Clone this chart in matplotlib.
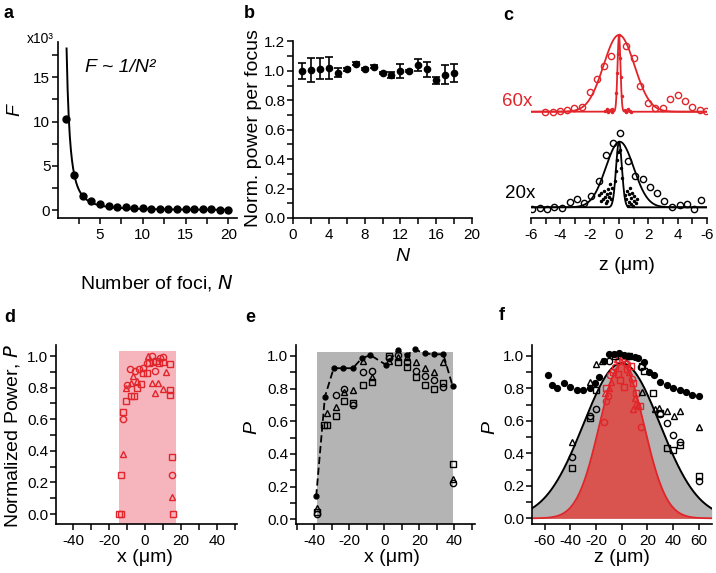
import numpy as np
import matplotlib
matplotlib.use("Agg")
import matplotlib.pyplot as plt
from matplotlib.patches import Rectangle
from matplotlib.ticker import MultipleLocator, FixedLocator

plt.rcParams['font.family'] = ['Liberation Sans', 'DejaVu Sans']
plt.rcParams['axes.linewidth'] = 1.2
plt.rcParams['axes.unicode_minus'] = False

RED = '#e1252b'
PINK = '#f6b4bd'
GRAY = '#b4b4b4'
RED_FILL = '#d9534f'

# ---- panel a: F vs number of foci ----
N_a = list(range(1, 21))
F_a = [10.3, 4.0, 1.62, 0.98, 0.68, 0.49, 0.38, 0.30, 0.23, 0.18,
       0.16, 0.14, 0.12, 0.11, 0.10, 0.09, 0.08, 0.07, 0.06, 0.05]
fit_a = (11.4, 0.31)   # F = A / (N - c)^2

# ---- panel b: normalized power per focus ----
N_b = list(range(1, 19))
P_b = [1.00, 1.005, 1.016, 1.022, 0.989, 1.01, 1.05, 1.011, 1.03, 0.986,
       0.97, 1.0, 1.0, 1.04, 1.01, 0.937, 0.975, 0.986]
E_b = [0.055, 0.08, 0.07, 0.075, 0.03, 0.008, 0.01, 0.008, 0.008, 0.008,
       0.02, 0.045, 0.008, 0.042, 0.05, 0.025, 0.062, 0.062]

# ---- panel c: axial profiles (normalized intensity) ----
z60_circ = [-5.02, -4.52, -4.05, -3.55, -3.05, -2.52, -2.0, -1.5, -1.05, -0.55,
            0.5, 1.0, 1.45, 1.95, 2.47, 2.97, 3.5, 4.0, 4.5, 4.98, 5.5, 5.95]
i60_circ = [0.0, 0.0, 0.01, 0.018, 0.044, 0.057, 0.26, 0.42, 0.59, 0.73,
            0.86, 0.70, 0.33, 0.12, 0.044, 0.044, 0.16, 0.22, 0.143, 0.057, 0.022, 0.014]
z60_dot = [-0.95, -0.85, -0.75, -0.6, -0.5, -0.45, 0.4, 0.5, 0.6, 0.75, 0.85,
           -0.2, -0.15, -0.1, 0.0, 0.1, 0.15, 0.2]
i60_dot = [0.01, 0.03, 0.0, 0.02, 0.04, 0.0, 0.02, 0.0, 0.03, 0.01, 0.0,
           0.25, 0.5, 0.75, 1.0, 0.7, 0.45, 0.2]
z20_circ = [-5.93, -5.41, -4.91, -4.41, -3.89, -3.37, -2.86, -2.37, -1.91, -1.39,
            -0.89, -0.41, 0.09, 0.59, 1.11, 1.64, 2.09, 2.59, 3.09, 3.61,
            4.13, 4.64, 5.09, 5.61]
i20_circ = [-0.03, -0.01, -0.03, 0.0, -0.015, 0.085, 0.127, 0.061, 0.172, 0.406,
            0.797, 0.985, 1.137, 0.71, 0.477, 0.427, 0.314, 0.223, 0.101, 0.0,
            0.04, 0.046, -0.03, 0.111]
z20_dot = [-1.35, -1.2, -1.1, -1.0, -0.95, -0.85, -0.8, -0.75, -0.7, -0.62,
           -0.55, -0.5, -1.25, -0.9, -0.6,
           0.4, 0.5, 0.55, 0.65, 0.7, 0.8, 0.85, 0.9, 1.0, 1.05, 1.15, 1.2,
           0.6, 0.95, 0.75,
           -0.2, -0.15, -0.1, 0.1, 0.15, -0.25, 0.2]
i20_dot = [0.18, 0.22, 0.12, 0.25, 0.15, 0.20, 0.10, 0.28, 0.16, 0.22,
           0.12, 0.30, 0.10, 0.06, 0.35,
           0.18, 0.12, 0.25, 0.08, 0.20, 0.14, 0.05, 0.22, 0.10, 0.17, 0.06, 0.13,
           0.02, 0.02, 0.30,
           0.55, 0.72, 0.85, 0.88, 0.60, 0.40, 0.45]
# gaussian fits: (center, sigma)
fit60_wide, fit60_narrow = (0.0, 1.05), (0.0, 0.1)
fit20_wide, fit20_narrow = (0.05, 0.95), (0.0, 0.2)
c_ticks = [-6, -4, -2, 0, 2, 4, 6]
c_ticklabels = ['-6', '-4', '-2', '0', '2', '4', '-6']

# ---- panel d: lateral power, 60x ----
d_sq_x = [-14.3, -13.6, -13.4, -12.5, -10.6, -8.0, -6.1, -4.7, -2.4, -0.9, 0.9,
          2.4, 4.3, 6.1, 8.0, 10.2, 13.6, 14.0, 14.0, 14.9, 15.4]
d_sq_y = [0.0, 0.0, 0.247, 0.643, 0.717, 0.749, 0.749, 0.80, 0.823, 0.89, 0.89,
          0.954, 0.964, 0.97, 0.954, 0.964, 0.95, 0.785, 0.753, 0.363, 0.0]
d_ci_x = [-12.1, -10.2, -8.4, -5.6, -3.2, -0.9, 0.9, 3.7, 5.6, 8.4, 10.2, 14.9]
d_ci_y = [0.60, 0.816, 0.916, 0.907, 0.916, 0.922, 0.954, 1.0, 0.907, 0.985, 0.996, 0.247]
d_tr_x = [-12.5, -10.6, -8.0, -6.5, -4.3, 1.9, 3.7, 5.6, 7.4, 9.9, 11.7, 14.9]
d_tr_y = [0.378, 0.795, 0.827, 0.873, 0.844, 1.0, 0.83, 0.768, 0.83, 0.789, 0.90, 0.11]
d_span = (-14.3, 17.0, 1.03)

# ---- panel e: lateral power, 20x ----
e_dash_x = [-39, -34, -29, -23.5, -18, -13, -8, 1, 7.5, 12.8, 17.5, 23, 28.4, 33.7, 39]
e_dash_y = [0.14, 0.75, 0.925, 0.925, 0.925, 0.985, 1.005, 0.945, 1.035, 1.005,
            1.04, 1.015, 1.01, 1.01, 0.815]
e_ci_x = [-38.5, -27.6, -23, -17.7, -12.4, -7.2, 2.5, 8, 12.8, 18.1, 23.2, 28.4, 33.7, 39]
e_ci_y = [0.03, 0.76, 0.80, 0.70, 0.90, 0.91, 0.99, 1.005, 0.965, 0.91, 0.875, 0.85, 0.81, 0.22]
e_tr_x = [-38.5, -33, -27.6, -23, -17.7, -12.4, -7.2, 2.5, 8, 12.8, 18.1, 23.2, 28.4, 33.7, 39]
e_tr_y = [0.07, 0.65, 0.69, 0.78, 0.79, 0.97, 0.87, 0.97, 0.995, 0.995, 0.965, 0.925,
          0.90, 0.965, 0.245]
e_sq_x = [-38.5, -34.5, -32.6, -27.6, -23, -17.7, -12.4, -7.2, 2.5, 7.5, 12.8, 18.1,
          23.2, 28.4, 33.7, 39]
e_sq_y = [0.045, 0.58, 0.58, 0.63, 0.725, 0.71, 0.825, 0.84, 1.0, 0.965, 0.935, 0.87,
          0.82, 0.80, 0.835, 0.34]
e_span = (-38.7, 39.4, 1.027)

# ---- panel f: axial power ----
f_dot_z = [-57, -54, -50, -45, -40, -35, -30, -25, -21, -17.6, -14, -10, -6, -2, 2,
           6, 10, 13, 17, 21, 25, 30, 35, 40, 45, 50, 55, 60]
f_dot_p = [0.88, 0.82, 0.80, 0.83, 0.81, 0.79, 0.79, 0.80, 0.83, 0.87, 0.97, 1.01,
           1.01, 1.015, 1.005, 1.0, 0.995, 0.99, 0.965, 0.90, 0.88, 0.84, 0.82, 0.80,
           0.79, 0.775, 0.76, 0.75]
f_tr_z = [-39, -25, -20, -15, 16, 26, 29, 35, 41, 45, 60]
f_tr_p = [0.47, 0.84, 0.95, 0.97, 0.78, 0.67, 0.68, 0.66, 0.63, 0.66, 0.565]
f_ci_z = [-39, -24.5, -20, -10, 5, 15, 30, 35, 40, 45, 60]
f_ci_p = [0.38, 0.63, 0.67, 0.97, 1.0, 0.93, 0.64, 0.585, 0.51, 0.47, 0.23]
f_sq_z = [-39, -25, -20, -5, 5.7, 16, 17, 24, 30, 35.5, 40, 45, 60]
f_sq_p = [0.31, 0.62, 0.79, 1.0, 1.0, 0.94, 0.91, 0.77, 0.65, 0.43, 0.42, 0.45, 0.26]
f_rci_z = [-14, -12.5, -11, -9, -5, -2, 1, 4, 8, 12, 15]
f_rci_p = [0.59, 0.72, 0.75, 0.88, 0.93, 0.97, 0.99, 0.95, 0.86, 0.70, 0.56]
f_rtr_z = [-13, -10, -8, -4, 0, 3, 6, 8.5, 10.5, 12.5]
f_rtr_p = [0.77, 0.80, 0.84, 0.98, 1.0, 0.96, 0.90, 0.67, 0.74, 0.70]
f_rsq_z = [-12, -7, -3, -1, 1.5, 4, 7, 9, 11, 14]
f_rsq_p = [0.80, 0.90, 0.89, 0.85, 0.81, 0.92, 0.94, 0.83, 0.77, 0.69]
fit_f20 = (0.955, 29.8)   # amplitude, sigma
fit_f60 = (0.95, 17.3)

W, H = 716, 573
fig = plt.figure(figsize=(W / 100, H / 100), dpi=100)


def add_ax(l, t, r, b):
    return fig.add_axes([l / W, 1 - b / H, (r - l) / W, (b - t) / H])


def ftext(x, y, s, **kw):
    fig.text(x / W, 1 - y / H, s, **kw)


def style(ax):
    for s in ['top', 'right']:
        ax.spines[s].set_visible(False)
    ax.tick_params(which='both', direction='out', length=4, width=1.1,
                   labelsize=11, pad=3)
    ax.tick_params(axis='y', which='both', pad=1.5)
    ax.patch.set_alpha(0)


def gauss(x, c, s):
    return np.exp(-(np.asarray(x) - c) ** 2 / (2 * s ** 2))


open_kw = dict(linestyle='none', mfc='none', mew=1.0, ms=4.5)

# a
ax = add_ax(58, 42, 237, 218)
style(ax)
nn = np.linspace(1.1, 20, 300)
ax.plot(nn, fit_a[0] / (nn - fit_a[1]) ** 2, color='k', lw=1.4)
ax.plot(N_a, F_a, 'o', color='k', ms=5)
ax.set_xlim(0.1, 21)
ax.set_ylim(-0.9, 19)
ax.set_xticks([5, 10, 15, 20])
ax.set_yticks([0, 5, 10, 15])
ax.xaxis.set_minor_locator(MultipleLocator(2.5))
ax.yaxis.set_minor_locator(MultipleLocator(2.5))
ax.text(0.15, 0.83, 'F ~ 1/N²', transform=ax.transAxes, fontsize=14, style='italic')

# b
ax = add_ax(293, 41.5, 472, 218)
style(ax)
ax.errorbar(N_b, P_b, yerr=E_b, fmt='o', color='k', ms=4.5, capsize=3,
            elinewidth=1.2, capthick=1.2)
ax.set_xlim(0, 20)
ax.set_ylim(0, 1.2)
ax.set_xticks(range(0, 21, 4))
ax.xaxis.set_minor_locator(MultipleLocator(2))
ax.set_yticks(np.arange(0, 1.21, 0.2))
ax.yaxis.set_minor_locator(MultipleLocator(0.1))
ax.set_yticklabels(['0.0', '0.2', '0.4', '0.6', '0.8', '1.0', '1.2'])

# c
ax = add_ax(531, 20, 707, 218)
style(ax)
ax.spines['left'].set_visible(False)
ax.tick_params(axis='y', left=False, labelleft=False)
zz = np.linspace(-6, 6, 800)
off60, amp60 = 1.457, 1.17
ax.plot(zz, off60 + amp60 * gauss(zz, *fit60_wide), color=RED, lw=1.3)
ax.plot(zz, off60 + amp60 * gauss(zz, *fit60_narrow), color=RED, lw=1.3)
ax.plot(z60_circ, off60 + amp60 * np.array(i60_circ), 'o', color=RED, **open_kw)
ax.plot(z60_dot, off60 + amp60 * np.array(i60_dot), '.', color=RED, ms=3)
ax.plot(zz, gauss(zz, *fit20_wide), color='k', lw=1.3)
ax.plot(zz, gauss(zz, *fit20_narrow), color='k', lw=1.3)
ax.plot(z20_circ, i20_circ, 'o', color='k', **open_kw)
ax.plot(z20_dot, i20_dot, '.', color='k', ms=3)
ax.set_xlim(-6, 6)
ax.set_ylim(-0.163, 2.855)
ax.xaxis.set_major_locator(FixedLocator(c_ticks))
ax.set_xticklabels(c_ticklabels)
ax.xaxis.set_minor_locator(MultipleLocator(1))
ftext(517, 102, '60x', color=RED, fontsize=13.5, ha='center', va='center')
ftext(520, 193, '20x', color='k', fontsize=13.5, ha='center', va='center')

# d
ax = add_ax(56, 345, 237, 524)
style(ax)
ax.set_xlim(-49.4, 51)
ax.set_ylim(-0.063, 1.07)
ax.add_patch(Rectangle((d_span[0], -0.063), d_span[1] - d_span[0], d_span[2] + 0.063,
                       color=PINK, lw=0, zorder=0))
ax.plot(d_sq_x, d_sq_y, 's', color=RED, **open_kw)
ax.plot(d_ci_x, d_ci_y, 'o', color=RED, **open_kw)
ax.plot(d_tr_x, d_tr_y, '^', color=RED, **open_kw)

# e
ax = add_ax(295.7, 345, 475, 524)
style(ax)
ax.set_xlim(-50.7, 51.8)
ax.set_ylim(-0.029, 1.067)
ax.add_patch(Rectangle((e_span[0], -0.029), e_span[1] - e_span[0], e_span[2] + 0.029,
                       color=GRAY, lw=0, zorder=0))
ax.plot(e_sq_x, e_sq_y, 's', color='k', **open_kw)
ax.plot(e_ci_x, e_ci_y, 'o', color='k', **open_kw)
ax.plot(e_tr_x, e_tr_y, '^', color='k', **open_kw)
ax.plot(e_dash_x, e_dash_y, '--', color='k', lw=1.3, dashes=(4, 2),
        marker='o', ms=3.5)

# f
ax = add_ax(531.7, 345, 711.7, 524)
style(ax)
ax.set_xlim(-70, 70)
ax.set_ylim(-0.035, 1.067)
zf = np.linspace(-70, 70, 500)
g20 = fit_f20[0] * gauss(zf, 0, fit_f20[1])
g60 = fit_f60[0] * gauss(zf, 0, fit_f60[1])
ax.fill_between(zf, 0, g20, color=GRAY, lw=0, zorder=0)
ax.fill_between(zf, 0, g60, color=RED_FILL, lw=0, zorder=0)
ax.plot(zf, g20, color='k', lw=1.4)
ax.plot(zf, g60, color=RED, lw=1.3)
ax.plot(f_rci_z, f_rci_p, 'o', color=RED, **open_kw)
ax.plot(f_rtr_z, f_rtr_p, '^', color=RED, **open_kw)
ax.plot(f_rsq_z, f_rsq_p, 's', color=RED, **open_kw)
ax.plot(f_tr_z, f_tr_p, '^', color='k', **open_kw)
ax.plot(f_ci_z, f_ci_p, 'o', color='k', **open_kw)
ax.plot(f_sq_z, f_sq_p, 's', color='k', **open_kw)
ax.plot(f_dot_z, f_dot_p, 'o', color='k', ms=4.2, linestyle='none')
ax.set_xticks(range(-60, 61, 20))

for a_ in fig.axes[3:]:
    a_.set_yticks(np.arange(0, 1.01, 0.2))
    a_.set_yticklabels(['0.0', '0.2', '0.4', '0.6', '0.8', '1.0'])
    a_.yaxis.set_minor_locator(MultipleLocator(0.1))
for a_ in fig.axes[3:5]:
    a_.set_xticks([-40, -20, 0, 20, 40])
    a_.xaxis.set_minor_locator(MultipleLocator(10))

# labels
lab = dict(fontsize=14, ha='center', va='center')
ftext(40, 39, 'x10³', fontsize=10, ha='center', va='center')
ftext(15, 110, 'F', rotation=90, style='italic', **lab)
ftext(80, 283, 'Number of foci, $\\it{N}$', fontsize=14, ha='left', va='center')
ftext(254, 128, 'Norm. power per focus', rotation=90, **lab)
ftext(402, 257, 'N', style='italic', **lab)
ftext(627, 265, 'z (μm)', **lab)
ftext(12, 436, 'Normalized Power, $\\it{P}$', rotation=90, **lab)
ftext(145, 557, 'x (μm)', **lab)
ftext(252, 428, 'P', rotation=90, style='italic', **lab)
ftext(392, 557, 'x (μm)', **lab)
ftext(490, 428, 'P', rotation=90, style='italic', **lab)
ftext(622, 557, 'z (μm)', **lab)

pl = dict(fontsize=13, fontweight='bold', ha='left', va='center')
ftext(4, 13, 'a', **pl)
ftext(244, 13, 'b', **pl)
ftext(503, 15, 'c', **pl)
ftext(4, 317, 'd', **pl)
ftext(245, 317, 'e', **pl)
ftext(499, 315, 'f', **pl)

fig.savefig('out.png', dpi=100)
